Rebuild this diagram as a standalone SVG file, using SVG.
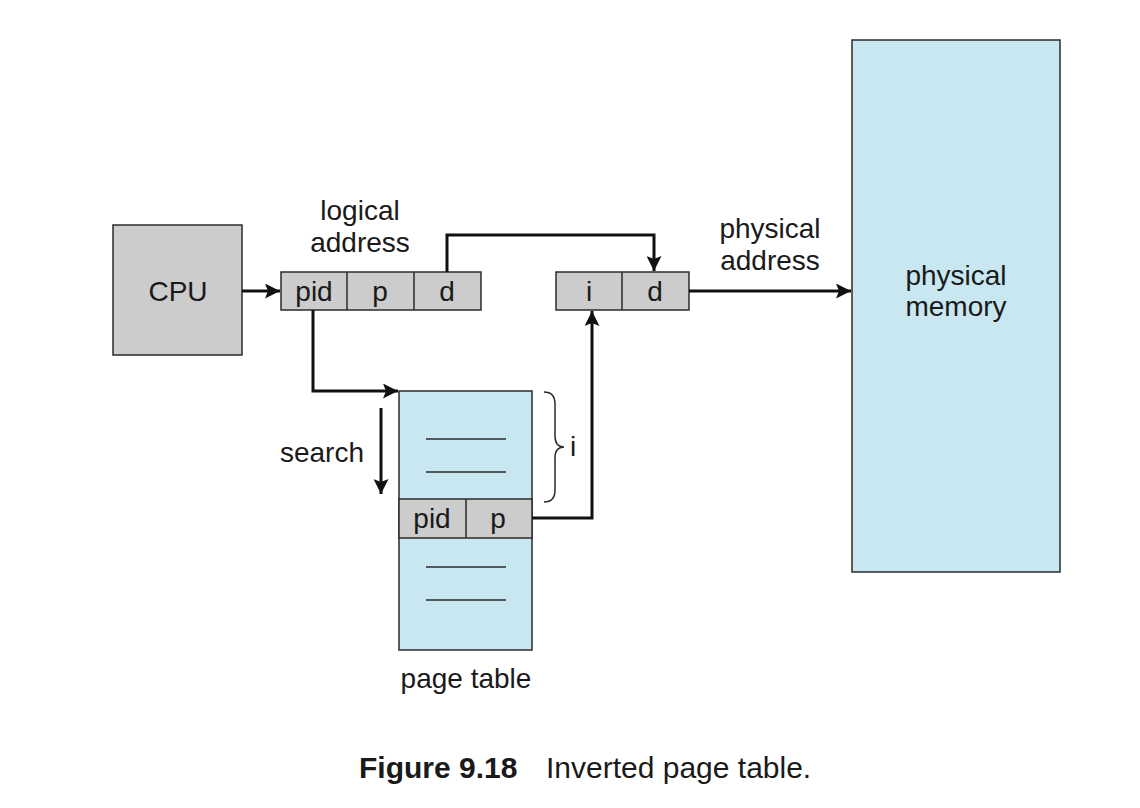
<svg xmlns="http://www.w3.org/2000/svg" width="1140" height="808" viewBox="0 0 1140 808">
  <style>
    .box { stroke: #2b2b2b; stroke-width: 1.5; }
    .gray { fill: #cccccc; }
    .blue { fill: #c8e7f1; }
    .div { stroke: #2b2b2b; stroke-width: 1.5; fill: none; }
    .rule { stroke: #2b2b2b; stroke-width: 1.5; }
    .wire { stroke: #111; stroke-width: 3; fill: none; }
    text { font-family: "Liberation Sans", Arial, sans-serif; font-size: 28px; fill: #1a1a1a; text-anchor: middle; }
    .cap { text-anchor: start; font-size: 30px; }
  </style>
  <defs>
    <marker id="ah" viewBox="0 0 10 10" refX="10" refY="5" markerWidth="5" markerHeight="5" orient="auto" markerUnits="strokeWidth">
      <path d="M0,0 L10,5 L0,10 L2,5 z" fill="#111"/>
    </marker>
  </defs>

  <g id="cpu">
    <rect class="box gray" x="113" y="225" width="129" height="130"/>
    <text x="178" y="301">CPU</text>
  </g>

  <g id="logical-address">
    <rect class="box gray" x="281" y="272" width="200" height="38"/>
    <line class="div" x1="347" y1="272" x2="347" y2="310"/>
    <line class="div" x1="414" y1="272" x2="414" y2="310"/>
    <text x="314" y="301">pid</text>
    <text x="380" y="301">p</text>
    <text x="447" y="301">d</text>
    <text x="360" y="220">logical</text>
    <text x="360" y="252">address</text>
  </g>

  <g id="physical-address">
    <rect class="box gray" x="556" y="272" width="133" height="38"/>
    <line class="div" x1="622" y1="272" x2="622" y2="310"/>
    <text x="589" y="301">i</text>
    <text x="655" y="301">d</text>
    <text x="770" y="238">physical</text>
    <text x="770" y="270">address</text>
  </g>

  <g id="physical-memory">
    <rect class="box blue" x="852" y="40" width="208" height="532"/>
    <text x="956" y="285">physical</text>
    <text x="956" y="316">memory</text>
  </g>

  <g id="page-table">
    <rect class="box blue" x="399" y="391" width="133" height="259"/>
    <line class="rule" x1="426" y1="439" x2="506" y2="439"/>
    <line class="rule" x1="426" y1="472" x2="506" y2="472"/>
    <rect class="box gray" x="399" y="499" width="133" height="39"/>
    <line class="div" x1="466" y1="499" x2="466" y2="538"/>
    <text x="432" y="528">pid</text>
    <text x="498" y="528">p</text>
    <line class="rule" x1="426" y1="567" x2="506" y2="567"/>
    <line class="rule" x1="426" y1="600" x2="506" y2="600"/>
    <text x="466" y="688">page table</text>
  </g>

  <g id="index-brace">
    <path class="div" d="M544,392 C552,392 555,396 555,404 L555,436 C555,443 558,447 564,447 C558,447 555,451 555,458 L555,490 C555,498 552,502 544,502"/>
    <text x="573" y="456">i</text>
  </g>

  <g id="search">
    <text x="322" y="462">search</text>
  </g>

  <g id="connectors">
    <line class="wire" x1="242" y1="291" x2="280" y2="291" marker-end="url(#ah)"/>
    <polyline class="wire" points="447,272 447,235 654,235 654,271" marker-end="url(#ah)"/>
    <line class="wire" x1="689" y1="291" x2="851" y2="291" marker-end="url(#ah)"/>
    <polyline class="wire" points="313,310 313,391 398,391" marker-end="url(#ah)"/>
    <line class="wire" x1="381" y1="408" x2="381" y2="494" marker-end="url(#ah)"/>
    <polyline class="wire" points="532,518 592,518 592,311" marker-end="url(#ah)"/>
  </g>

  <g id="caption">
    <text class="cap" x="359" y="778" font-weight="bold">Figure 9.18</text>
    <text class="cap" x="546" y="778">Inverted page table.</text>
  </g>
</svg>
